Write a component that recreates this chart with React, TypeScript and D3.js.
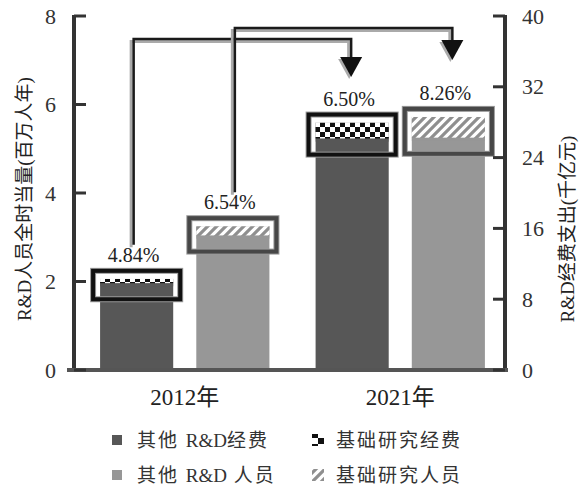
import React from "react";
import * as d3 from "d3";

const categories = ["2012年", "2021年"];
const expenditure = [10.3, 27.96]; // 千亿元
const personnel = [3.25, 5.72]; // 百万人年
const basicExpPct = [4.84, 6.5];
const basicPersPct = [6.54, 8.26];
const leftTicks = [0, 2, 4, 6, 8];
const rightTicks = [0, 8, 16, 24, 32, 40];
const legendItems = [
  { key: "expOther", pre: "其他 ", latin: "R&D", post: "经费" },
  { key: "expBasic", pre: "基础研究经费", latin: "", post: "" },
  { key: "persOther", pre: "其他 ", latin: "R&D", post: " 人员" },
  { key: "persBasic", pre: "基础研究人员", latin: "", post: "" },
];

const W = 580;
const H = 486;
const M = { left: 74, right: 505, top: 16, bottom: 370 };
const SERIF = "'Liberation Serif', 'DejaVu Serif', 'Noto Sans CJK SC', serif";
const EXP_COLOR = "#575757";
const PERS_COLOR = "#979797";

export default function App() {
  const yL = d3.scaleLinear().domain([0, 8]).range([M.bottom, M.top]);
  const yR = d3.scaleLinear().domain([0, 40]).range([M.bottom, M.top]);
  const x0 = d3.scaleBand<string>().domain(categories).range([77, 508]).padding(0);
  const x1 = d3.scaleBand<string>().domain(["exp", "pers"]).range([0, x0.bandwidth()]).padding(0.24);
  const bw = x1.bandwidth();

  type Bar = {
    key: string; x: number; top: number; hatchBottom: number; color: string;
    pattern: string; boxStroke: string; label: string; cx: number;
  };
  const bars: Bar[] = [];
  categories.forEach((c, i) => {
    const ex = (x0(c) ?? 0) + (x1("exp") ?? 0);
    bars.push({
      key: c + "exp", x: ex, top: yR(expenditure[i]),
      hatchBottom: yR(expenditure[i] * (1 - basicExpPct[i] / 100)),
      color: EXP_COLOR, pattern: "url(#checker)", boxStroke: "#111",
      label: basicExpPct[i].toFixed(2) + "%", cx: ex + bw / 2,
    });
    const px = (x0(c) ?? 0) + (x1("pers") ?? 0);
    bars.push({
      key: c + "pers", x: px, top: yL(personnel[i]),
      hatchBottom: yL(personnel[i] * (1 - basicPersPct[i] / 100)),
      color: PERS_COLOR, pattern: "url(#stripes)", boxStroke: "#474747",
      label: basicPersPct[i].toFixed(2) + "%", cx: px + bw / 2,
    });
  });

  const boxTop = (b: Bar) => b.top - 8;
  const labelBase = (b: Bar) => boxTop(b) - 9;

  const b12e = bars[0], b12p = bars[1], b21e = bars[2], b21p = bars[3];
  const conns = [
    { x1: b12e.cx - 3, y1: labelBase(b12e) - 17, yH: M.top + 23, x2: b21e.cx - 1, tip: M.top + 61 },
    { x1: b12p.cx + 2, y1: labelBase(b12p) - 17, yH: M.top + 12, x2: b21p.cx + 4, tip: M.top + 44 },
  ];

  return (
    <svg width={W} height={H} style={{ position: "absolute", left: 0, top: 0, background: "#fff", fontFamily: SERIF }}>
      <defs>
        <pattern id="checker" patternUnits="userSpaceOnUse" width={10} height={10} x={0} y={2}>
          <rect width={10} height={10} fill="#fff" />
          <rect width={5} height={5} fill="#111" />
          <rect x={5} y={5} width={5} height={5} fill="#111" />
        </pattern>
        <pattern id="checkerSmall" patternUnits="userSpaceOnUse" width={12} height={12}>
          <rect width={12} height={12} fill="#fff" />
          <rect width={6} height={6} fill="#111" />
          <rect x={6} y={6} width={6} height={6} fill="#111" />
        </pattern>
        <pattern id="stripes" patternUnits="userSpaceOnUse" width={9} height={9} y={2}>
          <rect width={9} height={9} fill="#fff" />
          <path d="M-3,3 l6,-6 M0,9 l9,-9 M6,12 l6,-6" stroke="#8f8f8f" strokeWidth={3.2} />
        </pattern>
      </defs>

      {bars.map((b) => {
        const by = boxTop(b);
        const bh = b.hatchBottom + 16 - by;
        return (
          <g key={b.key}>
            <rect x={b.x - 7} y={by} width={bw + 14} height={bh} fill="#fff" />
            <rect x={b.x} y={b.top} width={bw} height={M.bottom - b.top} fill={b.color} />
            <rect x={b.x} y={b.top} width={bw} height={b.hatchBottom - b.top} fill={b.pattern} />
            <rect x={b.x} y={b.top - 3} width={bw} height={3} fill="#fff" />
            <rect x={b.x} y={b.hatchBottom} width={bw} height={3} fill={b.color} opacity={0.7} />
            <rect x={b.x - 7} y={by} width={bw + 14} height={bh} fill="none" stroke="#9a9a9a" strokeWidth={6} />
            <rect x={b.x - 7} y={by} width={bw + 14} height={bh} fill="none" stroke={b.boxStroke} strokeWidth={4} />
            <text x={b.cx - 3} y={labelBase(b)} fontSize={20} textAnchor="middle" fill="#222">{b.label}</text>
          </g>
        );
      })}

      {conns.map((c, i) => {
        const tri = `M${c.x2 - 11},${c.tip - 20} L${c.x2 + 11},${c.tip - 20} L${c.x2},${c.tip} Z`;
        const path = `M${c.x1},${c.y1} V${c.yH} H${c.x2} V${c.tip - 18}`;
        return (
          <g key={i}>
            <path d={path} transform="translate(-2.5,2.5)" fill="none" stroke="#aaa" strokeWidth={3} />
            <path d={tri} transform="translate(-2,2)" fill="#aaa" />
            <path d={path} fill="none" stroke="#1a1a1a" strokeWidth={2.5} />
            <path d={tri} fill="#111" />
          </g>
        );
      })}

      <line x1={M.left} x2={M.left} y1={M.top - 1} y2={M.bottom} stroke="#333" strokeWidth={4} />
      <line x1={M.right} x2={M.right} y1={M.top - 1} y2={M.bottom} stroke="#333" strokeWidth={4} />
      <line x1={M.left - 7} x2={M.right + 3} y1={M.bottom} y2={M.bottom} stroke="#555" strokeWidth={4} />
      {leftTicks.map((t) => (
        <g key={"l" + t}>
          <line x1={M.left} x2={M.left + 12} y1={yL(t)} y2={yL(t)} stroke="#333" strokeWidth={3} />
          <text x={56} y={yL(t)} fontSize={22} textAnchor="end" dominantBaseline="central" fill="#333">{t}</text>
        </g>
      ))}
      {rightTicks.map((t) => (
        <g key={"r" + t}>
          <line x1={M.right - 12} x2={M.right} y1={yR(t)} y2={yR(t)} stroke="#333" strokeWidth={3} />
          <text x={522} y={yR(t)} fontSize={22} textAnchor="start" dominantBaseline="central" fill="#333">{t}</text>
        </g>
      ))}
      {categories.map((c) => (
        <text key={c} x={(x0(c) ?? 0) + x0.bandwidth() / 2} y={405} fontSize={23} textAnchor="middle" fill="#222">{c}</text>
      ))}

      <text transform="translate(24,199) rotate(-90)" fontSize={19} textAnchor="middle" dominantBaseline="central" fill="#222">R&amp;D人员全时当量(百万人年)</text>
      <text transform="translate(567,229) rotate(-90)" fontSize={19} textAnchor="middle" dominantBaseline="central" fill="#222">R&amp;D经费支出(千亿元)</text>

      {legendItems.map((it, i) => {
        const col = i % 2;
        const row = Math.floor(i / 2);
        const mx = col === 0 ? 117 : 318;
        const tx = col === 0 ? 137 : 336;
        const cy = row === 0 ? 440 : 475;
        let marker;
        if (it.key === "expOther") marker = <rect x={mx - 5} y={cy - 5} width={10} height={10} fill={EXP_COLOR} />;
        else if (it.key === "persOther") marker = <rect x={mx - 5} y={cy - 5} width={10} height={10} fill={PERS_COLOR} />;
        else if (it.key === "expBasic") marker = <rect x={mx - 6} y={cy - 6} width={12} height={12} fill="url(#checkerSmall)" />;
        else marker = <rect x={mx - 6} y={cy - 6} width={12} height={12} fill="url(#stripes)" />;
        return (
          <g key={it.key}>
            {marker}
            <text x={tx} y={cy} fontSize={19} dominantBaseline="central" fill="#333">
              <tspan letterSpacing={2}>{it.pre}</tspan>
              {it.latin ? <tspan letterSpacing={0}>{it.latin}</tspan> : null}
              {it.post ? <tspan letterSpacing={2}>{it.post}</tspan> : null}
            </text>
          </g>
        );
      })}
    </svg>
  );
}
